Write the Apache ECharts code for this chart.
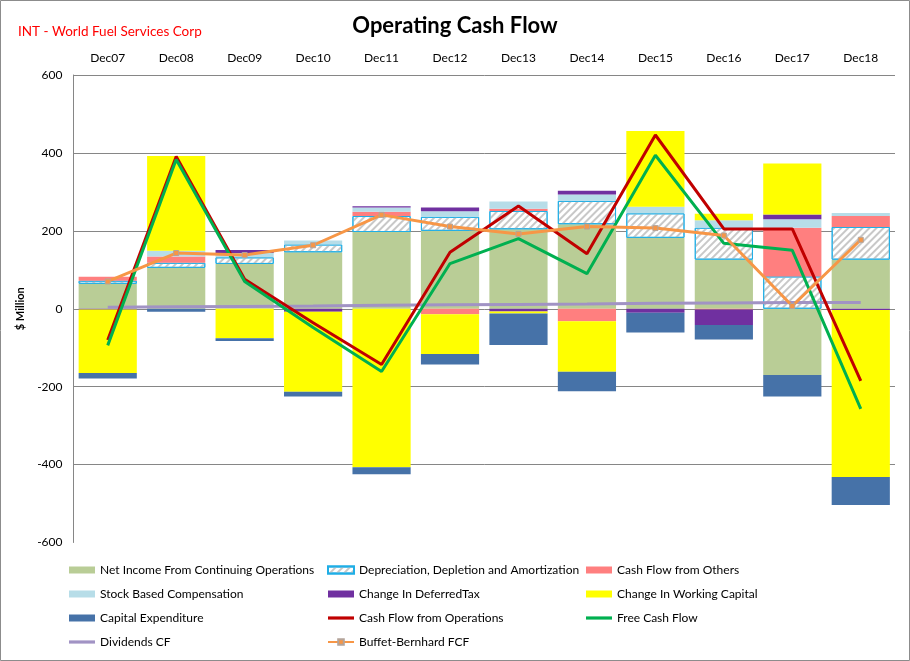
<!DOCTYPE html>
<html>
<head>
<meta charset="utf-8">
<script src="https://cdn.jsdelivr.net/npm/echarts@6/dist/echarts.min.js"></script>
<style>
html,body{margin:0;padding:0;background:#fff;}
#chart{width:910px;height:661px;}
</style>
</head>
<body>
<div id="chart"></div>
<script>
var categories = ['Dec07','Dec08','Dec09','Dec10','Dec11','Dec12','Dec13','Dec14','Dec15','Dec16','Dec17','Dec18'];
var netIncome   = [64, 105, 115, 145, 197, 200, 204, 217, 182, 126, -170, 126];
var dda         = [8, 13, 17, 20, 41, 36, 47, 60, 63, 82, 83, 84];
var cfOthers    = [10, 16, 0, 0, 11, -14, 6, -32, 0, -2, 125, 28];
var sbc         = [0, 15, 11, 10, 11, 14, 18, 16, 17, 19, 22, 8];
var deferredTax = [-2, 0, 8, -8, 3, 10, -7, 10, -10, -40, 12, -3];
var workingCap  = [-163, 243, -76, -205, -407, -102, -5, -130, 194, 17, 131, -429];
var capex       = [-14, -8, -7, -12, -18, -27, -81, -50, -51, -37, -55, -72];
var cfo         = [-80, 391, 76, -36, -143, 145, 264, 141, 446, 205, 205, -185];
var fcf         = [-94, 383, 70, -48, -161, 116, 180, 90, 394, 168, 150, -257];
var dividends   = [4, 5, 6, 7, 9, 10, 11, 12, 14, 15, 16, 16];
var buffett     = [70, 143, 138, 163, 241, 211, 192, 211, 207, 188, 7, 177];
var yTicks = [-600, -400, -200, 0, 200, 400, 600];

var FONT = 'Lato, "Open Sans", sans-serif';
var chart = echarts.init(document.getElementById('chart'));

function bar(name, data, color, extra) {
  var s = {
    name: name, type: 'bar', stack: 'cf', data: data,
    barCategoryGap: '15%',
    itemStyle: { color: color },
    emphasis: { disabled: true }
  };
  if (extra) { for (var k in extra) s[k] = extra[k]; }
  return s;
}
function line(name, data, color, extra) {
  var s = {
    name: name, type: 'line', data: data,
    symbol: 'none', lineStyle: { color: color, width: 3 },
    itemStyle: { color: color }, z: 5,
    emphasis: { disabled: true }
  };
  if (extra) { for (var k in extra) s[k] = extra[k]; }
  return s;
}

var LINE_ICON = 'path://M0,0 L26,0 L26,3.2 L0,3.2 Z';
var legendText = { fontFamily: FONT, fontSize: 12, color: '#000', lineHeight: 14 };
function legend(left, names) {
  return {
    orient: 'vertical', left: left, top: 563, padding: 0, itemWidth: 26, itemHeight: 7, itemGap: 10,
    data: names, textStyle: legendText, selectedMode: false
  };
}

var option = {
  animation: false,
  backgroundColor: '#fff',
  title: [
    { text: 'Operating Cash Flow', left: 'center', top: 10,
      textStyle: { fontFamily: FONT, fontSize: 22, fontWeight: 'bold', color: '#000' } },
    { text: 'INT - World Fuel Services Corp', left: 13, top: 20,
      textStyle: { fontFamily: FONT, fontSize: 13.5, fontWeight: 'normal', color: '#FF0000' } }
  ],
  graphic: [{
    type: 'rect', shape: { x: 0.5, y: 0.5, width: 909, height: 660 },
    style: { fill: 'none', stroke: '#8c8c8c', lineWidth: 1 }, silent: true
  }],
  legend: [
    legend(69, [{name:'Net Income From Continuing Operations', icon:'rect'}, {name:'Stock Based Compensation', icon:'rect'}, {name:'Capital Expenditure', icon:'rect'}, {name:'Dividends CF', icon: LINE_ICON}]),
    legend(327, [{name:'Depreciation, Depletion and Amortization', icon:'rect'}, {name:'Change In DeferredTax', icon:'rect'}, {name:'Cash Flow from Operations', icon: LINE_ICON}, 'Buffet-Bernhard FCF']),
    legend(586, [{name:'Cash Flow from Others', icon:'rect'}, {name:'Change In Working Capital', icon:'rect'}, {name:'Free Cash Flow', icon: LINE_ICON}])
  ],
  grid: { left: 73.5, right: 15, top: 75, bottom: 118.5, containLabel: false },
  xAxis: {
    type: 'category', data: categories, position: 'top',
    axisLine: { show: false }, axisTick: { show: false },
    axisLabel: { fontFamily: FONT, fontSize: 12, color: '#000', margin: 11 },
    splitLine: { show: false }
  },
  yAxis: {
    type: 'value', min: yTicks[0], max: yTicks[yTicks.length - 1], interval: 200,
    name: '$ Million', nameLocation: 'middle', nameGap: 45, nameRotate: 90,
    nameTextStyle: { fontFamily: FONT, fontSize: 11, fontWeight: 'bold', color: '#000' },
    axisLine: { show: true, lineStyle: { color: '#868686', width: 1 } },
    axisTick: { show: false },
    axisLabel: { fontFamily: FONT, fontSize: 12, color: '#000', margin: 11 },
    splitLine: { show: true, lineStyle: { color: ['rgba(0,0,0,0)', '#868686', '#868686', '#868686', '#868686', '#868686', '#868686'], width: 1 } }
  },
  series: [
    bar('Net Income From Continuing Operations', netIncome, '#B9CD96'),
    bar('Depreciation, Depletion and Amortization', dda, '#FFFFFF', {
      itemStyle: {
        color: '#FFFFFF', borderColor: '#1FAEE6', borderWidth: 1,
        decal: { symbol: 'rect', symbolSize: 1, color: '#C8C8C8', dashArrayX: [1, 0], dashArrayY: [1.2, 2.4], rotation: -Math.PI / 4 }
      }
    }),
    bar('Cash Flow from Others', cfOthers, '#FF7F7F'),
    bar('Stock Based Compensation', sbc, '#B7DDE8'),
    bar('Change In DeferredTax', deferredTax, '#7030A0'),
    bar('Change In Working Capital', workingCap, '#FFFF00'),
    bar('Capital Expenditure', capex, '#4672A8'),
    line('Cash Flow from Operations', cfo, '#C00000'),
    line('Free Cash Flow', fcf, '#00B050'),
    line('Dividends CF', dividends, '#A193C4', { z: 4 }),
    line('Buffet-Bernhard FCF', buffett, '#F79646', {
      symbol: 'rect', symbolSize: 5, showSymbol: true,
      itemStyle: { color: '#F79646', borderColor: '#B4A49A', borderWidth: 1 }
    })
  ]
};
chart.setOption(option);
</script>
</body>
</html>
